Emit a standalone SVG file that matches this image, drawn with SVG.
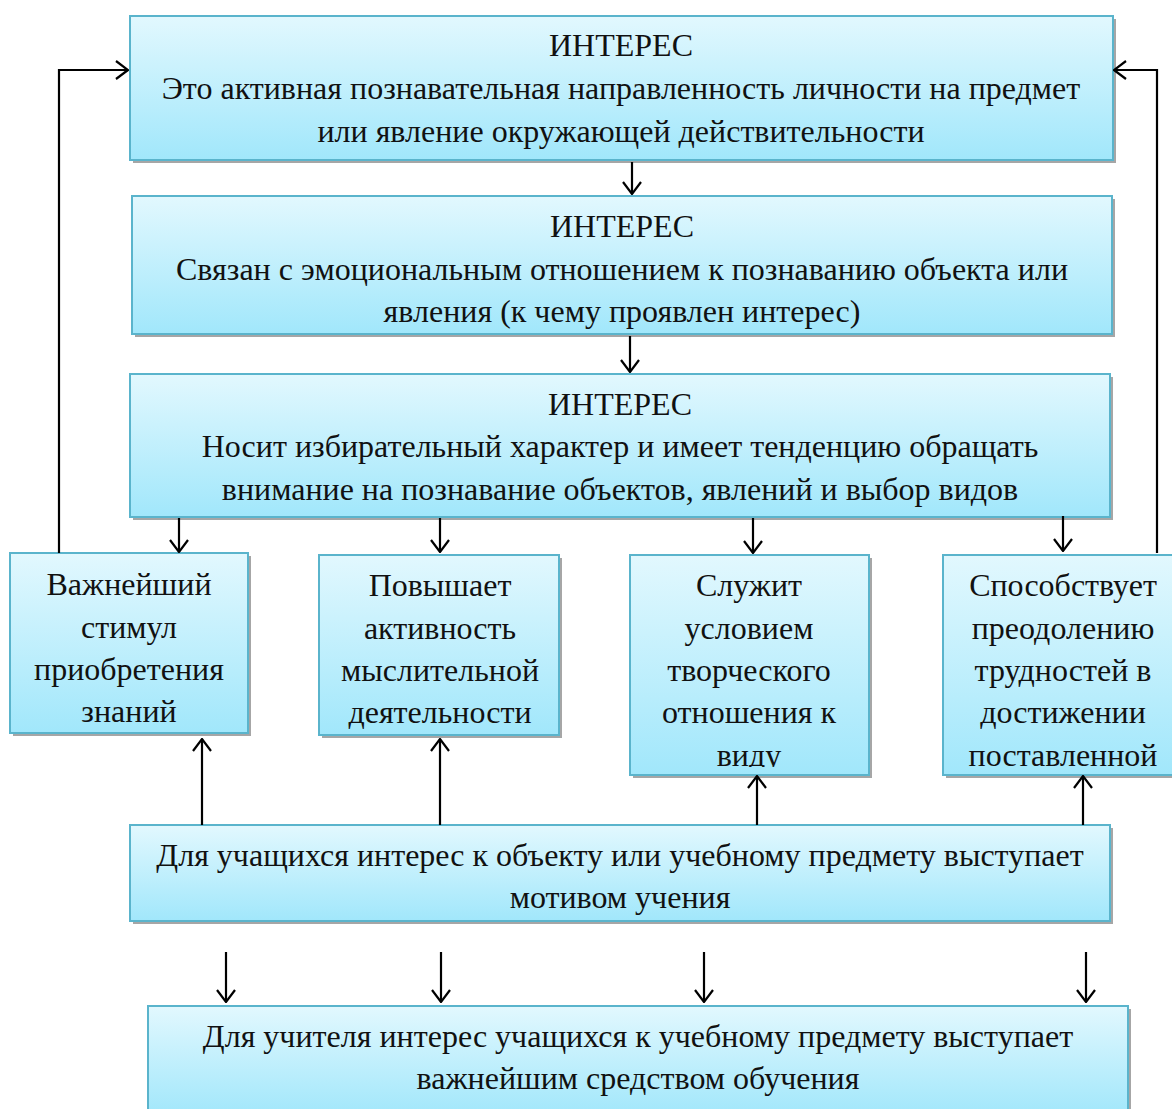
<svg xmlns="http://www.w3.org/2000/svg" width="1172" height="1109" viewBox="0 0 1172 1109">
<style>
.box{fill:url(#g);stroke:#5ab4cc;stroke-width:2}
.sh{fill:#a6a6a6}
text{font-family:"Liberation Serif","Times New Roman",serif;font-size:32px;fill:#111;text-anchor:middle}
.c{stroke:#000;stroke-width:2.2;fill:none}
</style>
<defs>
<linearGradient id="g" x1="0" y1="0" x2="0" y2="1">
<stop offset="0" stop-color="#e2f8fe"/>
<stop offset="1" stop-color="#a1e7fb"/>
</linearGradient>
<marker id="a" viewBox="0 0 14 20" refX="13" refY="10" markerWidth="14" markerHeight="20" markerUnits="userSpaceOnUse" orient="auto">
<path d="M1 1 L13 10 L1 19" fill="none" stroke="#000" stroke-width="2.2"/>
</marker>
<clipPath id="cc"><rect x="630" y="555" width="239" height="212"/></clipPath>
<clipPath id="cd"><rect x="943" y="555" width="240" height="220"/></clipPath>
</defs>
<g id="n1">
<rect class="sh" x="133" y="19" width="983" height="144"/>
<rect class="box" x="130" y="16" width="983" height="144"/>
<text x="621" y="56">ИНТЕРЕС</text>
<text x="621" y="99">Это активная познавательная направленность личности на предмет</text>
<text x="621" y="142">или явление окружающей действительности</text>
</g>
<g id="n2">
<rect class="sh" x="135" y="199" width="980" height="138"/>
<rect class="box" x="132" y="196" width="980" height="138"/>
<text x="622" y="237">ИНТЕРЕС</text>
<text x="622" y="280">Связан с эмоциональным отношением к познаванию объекта или</text>
<text x="622" y="322">явления (к чему проявлен интерес)</text>
</g>
<g id="n3">
<rect class="sh" x="133" y="377" width="980" height="143"/>
<rect class="box" x="130" y="374" width="980" height="143"/>
<text x="620" y="415">ИНТЕРЕС</text>
<text x="620" y="457">Носит избирательный характер и имеет тенденцию обращать</text>
<text x="620" y="500">внимание на познавание объектов, явлений и выбор видов</text>
</g>
<g id="nA">
<rect class="sh" x="13" y="556" width="238" height="180"/>
<rect class="box" x="10" y="553" width="238" height="180"/>
<text x="129" y="595">Важнейший</text>
<text x="129" y="638">стимул</text>
<text x="129" y="680">приобретения</text>
<text x="129" y="722">знаний</text>
</g>
<g id="nB">
<rect class="sh" x="322" y="558" width="240" height="180"/>
<rect class="box" x="319" y="555" width="240" height="180"/>
<text x="440" y="596">Повышает</text>
<text x="440" y="639">активность</text>
<text x="440" y="681">мыслительной</text>
<text x="440" y="723">деятельности</text>
</g>
<g id="nC">
<rect class="sh" x="633" y="558" width="239" height="220"/>
<rect class="box" x="630" y="555" width="239" height="220"/>
<g clip-path="url(#cc)">
<text x="749" y="596">Служит</text>
<text x="749" y="639">условием</text>
<text x="749" y="681">творческого</text>
<text x="749" y="723">отношения к</text>
<text x="749" y="766">виду</text>
</g>
</g>
<g id="nD">
<rect class="sh" x="946" y="558" width="240" height="220"/>
<rect class="box" x="943" y="555" width="240" height="220"/>
<g clip-path="url(#cd)">
<text x="1063" y="596">Способствует</text>
<text x="1063" y="639">преодолению</text>
<text x="1063" y="681">трудностей в</text>
<text x="1063" y="723">достижении</text>
<text x="1063" y="766">поставленной</text>
</g>
</g>
<g id="nE">
<rect class="sh" x="133" y="828" width="980" height="96"/>
<rect class="box" x="130" y="825" width="980" height="96"/>
<text x="620" y="866">Для учащихся интерес к объекту или учебному предмету выступает</text>
<text x="620" y="908">мотивом учения</text>
</g>
<g id="nF">
<rect class="sh" x="151" y="1009" width="980" height="110"/>
<rect class="box" x="148" y="1006" width="980" height="110"/>
<text x="638" y="1047">Для учителя интерес учащихся к учебному предмету выступает</text>
<text x="638" y="1089">важнейшим средством обучения</text>
</g>
<g id="connectors" class="c">
<path class="c" d="M632 162 V194" marker-end="url(#a)"/>
<path class="c" d="M630 336 V372" marker-end="url(#a)"/>
<path class="c" d="M179 518 V552" marker-end="url(#a)"/>
<path class="c" d="M440 518 V552" marker-end="url(#a)"/>
<path class="c" d="M753 518 V553" marker-end="url(#a)"/>
<path class="c" d="M1063 516 V551" marker-end="url(#a)"/>
<path class="c" d="M59 553 V70 H128" marker-end="url(#a)"/>
<path class="c" d="M1157 553 V70 H1114" marker-end="url(#a)"/>
<path class="c" d="M202 825 V739" marker-end="url(#a)"/>
<path class="c" d="M440 825 V739" marker-end="url(#a)"/>
<path class="c" d="M757 825 V776" marker-end="url(#a)"/>
<path class="c" d="M1083 825 V776" marker-end="url(#a)"/>
<path class="c" d="M226 952 V1002" marker-end="url(#a)"/>
<path class="c" d="M441 952 V1002" marker-end="url(#a)"/>
<path class="c" d="M704 952 V1002" marker-end="url(#a)"/>
<path class="c" d="M1086 952 V1002" marker-end="url(#a)"/>
</g>
</svg>
